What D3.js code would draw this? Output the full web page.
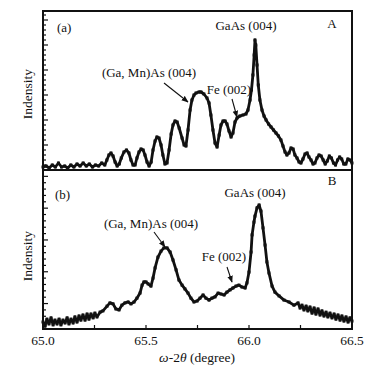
<!DOCTYPE html>
<html><head><meta charset="utf-8">
<script src="https://cdnjs.cloudflare.com/ajax/libs/d3/7.8.5/d3.min.js"></script>
<style>body{margin:0;background:#fff}svg{display:block}text{font-family:"Liberation Serif","Times New Roman",serif;fill:#111}</style>
</head><body><div id="chart"></div>
<script>
// ---- data ----
const xA = [65.000,65.015,65.030,65.045,65.060,65.075,65.090,65.105,65.120,65.135,65.150,65.165,65.180,65.195,65.210,65.225,65.240,65.255,65.270,65.285,65.300,65.310,65.320,65.330,65.340,65.350,65.360,65.370,65.380,65.393,65.405,65.417,65.427,65.437,65.447,65.456,65.466,65.476,65.486,65.495,65.505,65.515,65.525,65.534,65.544,65.553,65.563,65.573,65.582,65.592,65.602,65.612,65.622,65.631,65.641,65.651,65.661,65.675,65.685,65.694,65.704,65.714,65.723,65.733,65.743,65.757,65.767,65.781,65.796,65.806,65.815,65.825,65.835,65.845,65.855,65.864,65.874,65.884,65.893,65.903,65.913,65.922,65.932,65.942,65.956,65.971,65.985,65.995,66.005,66.012,66.019,66.025,66.029,66.033,66.039,66.045,66.053,66.063,66.073,66.083,66.095,66.107,66.119,66.131,66.143,66.155,66.165,66.175,66.184,66.194,66.204,66.214,66.223,66.233,66.243,66.252,66.262,66.272,66.282,66.291,66.301,66.311,66.320,66.330,66.340,66.350,66.360,66.370,66.380,66.390,66.400,66.410,66.420,66.430,66.440,66.450,66.460,66.470,66.480,66.490,66.500];
const yA = [0.12,0.16,0.08,0.20,0.12,0.28,0.12,0.16,0.08,0.20,0.12,0.24,0.16,0.28,0.16,0.24,0.12,0.20,0.16,0.28,0.20,0.40,0.60,0.68,0.56,0.32,0.16,0.24,0.48,0.72,0.80,0.68,0.40,0.20,0.20,0.48,0.72,0.84,0.80,0.60,0.32,0.16,0.32,0.80,1.16,1.32,1.28,1.00,0.60,0.24,0.28,0.80,1.44,1.80,1.96,1.92,1.68,1.28,1.00,0.96,1.60,2.40,2.80,3.00,3.08,3.12,3.12,3.04,2.88,2.68,2.20,1.60,1.08,0.92,1.40,1.80,1.96,1.96,1.84,1.56,1.32,1.48,1.92,2.08,2.16,2.20,2.24,2.40,2.80,3.20,3.80,4.60,5.20,5.00,4.20,3.40,2.80,2.40,2.16,2.00,1.84,1.72,1.60,1.48,1.36,1.20,0.96,0.72,0.60,0.68,0.88,0.84,0.60,0.48,0.32,0.28,0.44,0.64,0.68,0.52,0.40,0.24,0.28,0.48,0.60,0.56,0.40,0.24,0.36,0.56,0.48,0.28,0.20,0.40,0.52,0.44,0.24,0.24,0.44,0.40,0.28];
const xB = [65.000,65.010,65.019,65.029,65.039,65.049,65.058,65.068,65.078,65.087,65.097,65.107,65.117,65.126,65.136,65.146,65.155,65.165,65.175,65.184,65.194,65.204,65.214,65.223,65.233,65.243,65.252,65.262,65.277,65.291,65.311,65.325,65.340,65.354,65.369,65.383,65.398,65.413,65.427,65.442,65.456,65.471,65.481,65.490,65.500,65.510,65.524,65.534,65.544,65.558,65.573,65.587,65.602,65.617,65.631,65.646,65.660,65.675,65.689,65.704,65.718,65.733,65.748,65.762,65.777,65.791,65.806,65.820,65.835,65.850,65.864,65.879,65.893,65.908,65.922,65.937,65.951,65.966,65.981,65.990,66.000,66.010,66.015,66.024,66.029,66.039,66.049,66.058,66.068,66.078,66.087,66.097,66.112,66.126,66.146,66.170,66.194,66.218,66.238,66.248,66.257,66.267,66.277,66.286,66.296,66.306,66.316,66.325,66.335,66.345,66.354,66.364,66.374,66.383,66.393,66.403,66.413,66.422,66.432,66.442,66.451,66.461,66.471,66.481,66.490,66.500];
const yB = [0.42,0.29,0.51,0.36,0.55,0.33,0.48,0.36,0.51,0.33,0.48,0.39,0.55,0.36,0.51,0.39,0.58,0.42,0.61,0.48,0.64,0.48,0.67,0.51,0.67,0.55,0.70,0.58,0.73,0.77,0.92,1.02,0.99,0.83,0.80,0.95,1.02,1.05,0.99,1.05,1.17,1.33,1.58,1.68,1.68,1.62,1.55,1.80,2.12,2.46,2.65,2.75,2.75,2.62,2.37,2.06,1.74,1.58,1.46,1.33,1.17,1.05,1.08,1.17,1.27,1.17,1.11,1.17,1.21,1.33,1.30,1.27,1.36,1.43,1.49,1.55,1.58,1.52,1.49,1.65,1.99,2.62,3.16,3.56,3.75,4.01,4.10,3.91,3.38,2.84,2.31,1.96,1.55,1.36,1.24,1.11,1.05,0.95,1.02,0.86,0.95,0.80,0.92,0.77,0.89,0.70,0.86,0.67,0.83,0.64,0.77,0.61,0.73,0.58,0.70,0.55,0.67,0.51,0.64,0.48,0.61,0.45,0.58,0.42,0.55,0.45];
const xTicks = [65.0, 65.5, 66.0, 66.5];
const xMinor = [65.25, 65.75, 66.25];
const xLabel = ["65.0","65.5","66.0","66.5"];

// ---- layout ----
const W = 368, H = 369;
const L = 43, R = 352, TA = 11, MID = 170, BB = 329;
const svg = d3.select("#chart").append("svg").attr("width", W).attr("height", H);
const x = d3.scaleLinear().domain([65, 66.5]).range([L, R]);
const yAs = d3.scaleLinear().domain([0, 6.36]).range([MID, TA]);
const yBs = d3.scaleLinear().domain([0.2, 5.2]).range([BB, MID]);

function leftTicks(scale, maxV) {
  const g = svg.append("g");
  const vals = d3.range(0, maxV + 0.001, 0.2);
  vals.forEach(v => {
    const yy = scale(v);
    if (yy > scale.range()[0] - 1 || yy < scale.range()[1] + 1) return;
    const major = Math.abs(v - Math.round(v)) < 1e-6;
    g.append("line").attr("x1", L).attr("x2", L + (major ? 5 : 3))
      .attr("y1", yy).attr("y2", yy).attr("stroke", "#111").attr("stroke-width", 1.2);
  });
}
leftTicks(yAs, 6.36);
leftTicks(yBs, 5.2);

// bottom ticks (inside)
xTicks.concat(xMinor).forEach(v => {
  svg.append("line").attr("x1", x(v)).attr("x2", x(v)).attr("y1", BB).attr("y2", BB - 4)
    .attr("stroke", "#111").attr("stroke-width", 1.2);
});
xTicks.forEach((v, i) => {
  svg.append("text").attr("x", x(v)).attr("y", 345).attr("text-anchor", "middle")
    .attr("font-size", 13.5).text(xLabel[i]);
});

// curves
function curve(xs, ys, ys_scale) {
  const pts = xs.map((d, i) => [d, ys[i]]);
  svg.append("path").datum(pts)
    .attr("d", d3.line().x(d => x(d[0])).y(d => ys_scale(d[1])))
    .attr("fill", "none").attr("stroke", "#111").attr("stroke-width", 2.8)
    .attr("stroke-linejoin", "round");
  svg.append("g").selectAll("rect").data(pts).join("rect")
    .attr("x", d => x(d[0]) - 1.5).attr("y", d => ys_scale(d[1]) - 1.5)
    .attr("width", 3).attr("height", 3).attr("fill", "#111");
}
curve(xA, yA, yAs);
curve(xB, yB, yBs);

// frames
svg.append("rect").attr("x", L).attr("y", TA).attr("width", R - L).attr("height", MID - TA)
  .attr("fill", "none").attr("stroke", "#111").attr("stroke-width", 2);
svg.append("rect").attr("x", L).attr("y", MID).attr("width", R - L).attr("height", BB - MID)
  .attr("fill", "none").attr("stroke", "#111").attr("stroke-width", 2);

// arrow marker
svg.append("defs").append("marker").attr("id", "ah").attr("viewBox", "0 0 10 10")
  .attr("refX", 9).attr("refY", 5).attr("markerWidth", 7).attr("markerHeight", 7)
  .attr("orient", "auto").attr("markerUnits", "userSpaceOnUse")
  .append("path").attr("d", "M0,1 L10,5 L0,9 Z").attr("fill", "#111");
function arrow(x1, y1, x2, y2) {
  svg.append("line").attr("x1", x1).attr("y1", y1).attr("x2", x2).attr("y2", y2)
    .attr("stroke", "#111").attr("stroke-width", 1.1).attr("marker-end", "url(#ah)");
}

function txt(tx, ty, s, anchor, size) {
  return svg.append("text").attr("x", tx).attr("y", ty).attr("text-anchor", anchor || "start")
    .attr("font-size", size || 13).text(s);
}
// panel A texts
txt(57, 32, "(a)");
txt(332, 28, "A", "middle");
txt(246, 30, "GaAs (004)", "middle");
txt(149, 77, "(Ga, Mn)As (004)", "middle");
arrow(164, 83, 188, 102);
txt(229, 94, "Fe (002)", "middle");
arrow(232, 99, 237, 117);
// panel B texts
txt(55, 199, "(b)");
txt(332, 185, "B", "middle");
txt(255, 197, "GaAs (004)", "middle");
txt(151, 228, "(Ga, Mn)As (004)", "middle");
arrow(154, 232, 165, 247);
txt(224, 261, "Fe (002)", "middle");
arrow(227, 267, 232, 282);

// y labels
[94, 256].forEach(cy => {
  svg.append("text").attr("transform", `translate(32,${cy}) rotate(-90)`)
    .attr("text-anchor", "middle").attr("font-size", 13.5).text("Indensity");
});
// x title
const xt = svg.append("text").attr("x", 197).attr("y", 362).attr("text-anchor", "middle").attr("font-size", 13.5);
xt.append("tspan").attr("font-style", "italic").text("ω");
xt.append("tspan").text("-2");
xt.append("tspan").attr("font-style", "italic").text("θ");
xt.append("tspan").text(" (degree)");
</script></body></html>
